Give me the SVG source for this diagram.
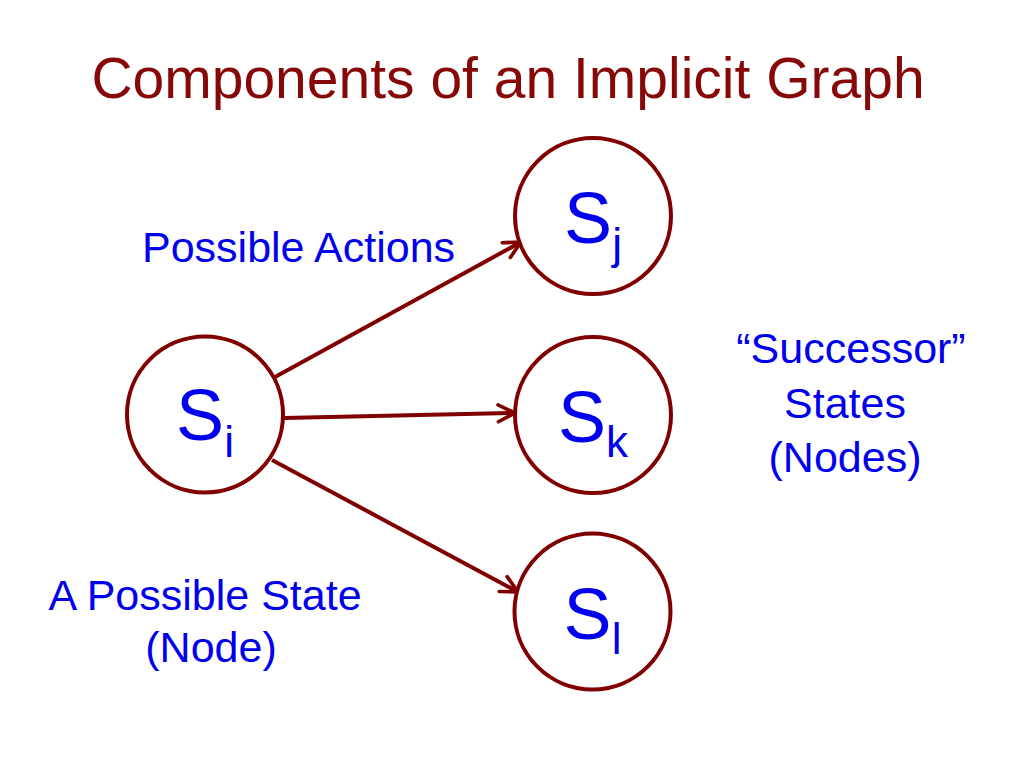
<svg xmlns="http://www.w3.org/2000/svg" width="1024" height="768" viewBox="0 0 1024 768">
<style>
.title{font-family:"Liberation Sans",Arial,sans-serif;font-size:57px;fill:#860808}
.lbl{font-family:"Liberation Sans",Arial,sans-serif;font-size:43px;fill:#0000ee}
.node circle{fill:#fff;stroke:#800000;stroke-width:4}
.nt{font-family:"Liberation Sans",Arial,sans-serif;font-size:72px;fill:#0000ee}
.sub{font-size:44px}
.edge{stroke:#800000;stroke-width:4;fill:none;marker-end:url(#ah)}
</style>
<defs>
<marker id="ah" viewBox="0 0 20 20" refX="17" refY="10" markerWidth="6" markerHeight="6" markerUnits="strokeWidth" orient="auto">
<path d="M3,3 L17,10 L3,17" fill="none" stroke="#800000" stroke-width="3" stroke-linecap="round" stroke-linejoin="round"/>
</marker>
</defs>
<rect width="1024" height="768" fill="#fff"/>
<text class="title" x="508" y="98" text-anchor="middle">Components of an Implicit Graph</text>
<g id="connectors">
<line class="edge" x1="275" y1="377" x2="521" y2="242"/>
<line class="edge" x1="284" y1="418" x2="515" y2="413"/>
<line class="edge" x1="272" y1="460" x2="518" y2="592"/>
</g>
<g id="node-si" class="node"><circle cx="205" cy="414.5" r="78"/><text class="nt" x="205" y="440" text-anchor="middle">S<tspan class="sub" dy="17">i</tspan></text></g>
<g id="node-sj" class="node"><circle cx="593" cy="216" r="78"/><text class="nt" x="593" y="243" text-anchor="middle">S<tspan class="sub" dy="16">j</tspan></text></g>
<g id="node-sk" class="node"><circle cx="593" cy="415" r="78"/><text class="nt" x="593" y="442" text-anchor="middle">S<tspan class="sub" dy="15">k</tspan></text></g>
<g id="node-sl" class="node"><circle cx="592.5" cy="611.5" r="78"/><text class="nt" x="592.5" y="639" text-anchor="middle">S<tspan class="sub" dy="15">l</tspan></text></g>
<g id="labels">
<text class="lbl" x="142" y="262">Possible Actions</text>
<text class="lbl" x="205" y="610" text-anchor="middle">A Possible State</text>
<text class="lbl" x="211" y="662" text-anchor="middle">(Node)</text>
<text class="lbl" x="851" y="363" text-anchor="middle">“Successor”</text>
<text class="lbl" x="845" y="418" text-anchor="middle">States</text>
<text class="lbl" x="845" y="472" text-anchor="middle">(Nodes)</text>
</g>
</svg>
